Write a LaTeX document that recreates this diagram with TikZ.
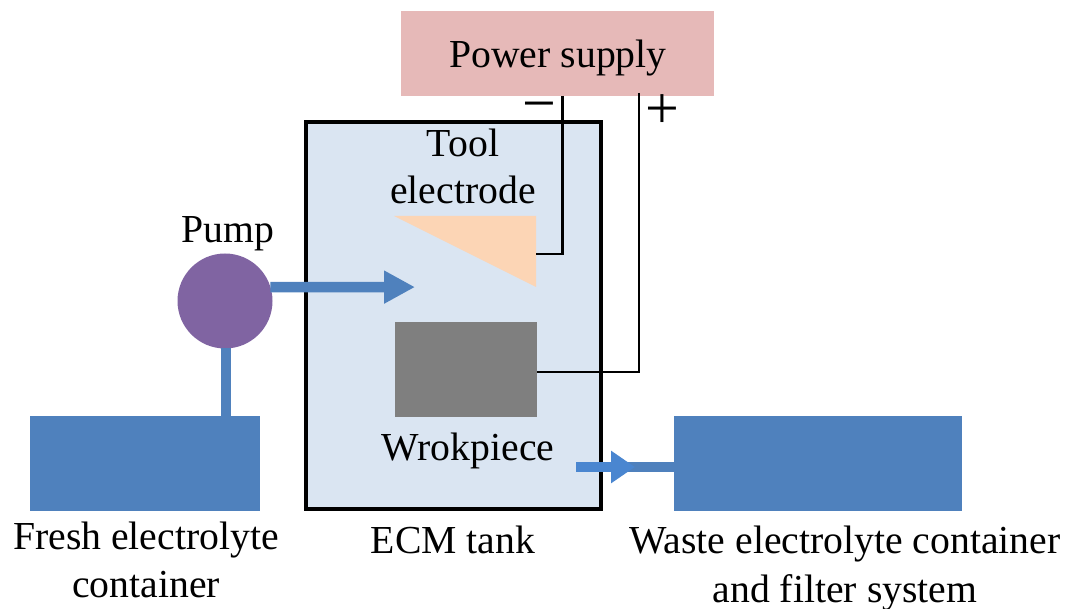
\documentclass[tikz,border=0pt]{standalone}
\usepackage{fontspec}
\setmainfont{Liberation Serif}
\usetikzlibrary{arrows.meta}
\definecolor{flowblue}{HTML}{4F81BD}
\definecolor{jetblue}{HTML}{4A86D0}
\definecolor{tankfill}{HTML}{DAE5F2}
\definecolor{powerfill}{HTML}{E6B9B8}
\definecolor{toolfill}{HTML}{FCD5B5}
\definecolor{workfill}{HTML}{7F7F7F}
\definecolor{pumpfill}{HTML}{8064A2}
\tikzset{
  boxshape/.style={rectangle,inner sep=0pt,outer sep=0pt,minimum width=#1},
  label/.style={inner sep=0pt,outer sep=0pt,anchor=base,align=center,font=\fontsize{39.7}{47.5}\selectfont},
  signmark/.style={inner sep=0pt,outer sep=0pt,anchor=base,font=\fontsize{60}{60}\selectfont},
  pipe/.style={draw=flowblue,line width=10.5pt},
  wire/.style={draw=black,line width=2.4pt},
}
\begin{document}
\begin{tikzpicture}[x=1pt,y=-1pt]
\useasboundingbox (0,0) rectangle (1067,609);
% tank
\node[boxshape=295pt,minimum height=387pt,fill=tankfill,draw=black,line width=3.2pt] (tank) at (453.5,315.5) {};
% boxes
\node[boxshape=313pt,minimum height=85pt,fill=powerfill] (power) at (557.5,53.5) {};
\node[boxshape=142pt,minimum height=95pt,fill=workfill] (work) at (466,369.5) {};
\node[boxshape=230pt,minimum height=95pt,fill=flowblue] (fresh) at (145,463.5) {};
\node[boxshape=288pt,minimum height=95pt,fill=flowblue] (waste) at (818,463.5) {};
\node[circle,inner sep=0pt,outer sep=0pt,minimum size=95pt,fill=pumpfill] (pump) at (225,301) {};
% tool electrode
\coordinate (toolA) at (394,216);
\coordinate (toolB) at (536,216);
\coordinate (toolC) at (536,287);
\coordinate (toolport) at (536,254);
\fill[toolfill] (toolA) -- (toolB) -- (toolC) -- cycle;
% pipes
\coordinate (jet) at (415,287.1);
\draw[pipe,-{Triangle[length=31pt,width=31pt]}] (pump.17) -- (jet);
\draw[pipe,line width=10pt] (226,348) -- (226,416);
\coordinate (outstart) at (576,467);
\coordinate (outtip) at (635,467);
\coordinate (stubstart) at (622,467);
\draw[pipe] (stubstart) -- (waste.west |- stubstart);
\draw[draw=jetblue,line width=10.5pt,-{Triangle[length=24pt,width=31pt]}] (outstart) -- (outtip);
% wires
\coordinate (minusTop) at (562.5,96);
\coordinate (plusTop) at (639,93);
\coordinate (workport) at (537,372);
\draw[wire] (minusTop) |- (toolport);
\draw[wire] (plusTop) |- (workport);
% labels
\node[label] (powerlabel) at (558,68) {Power supply};
\node[label] (toolabel) at (463,157) {Tool};
\node[label] (electrodelabel) at (463,204) {electrode};
\node[label] (pumplabel) at (228,243) {Pump};
\node[label] (worklabel) at (468,460) {Wrokpiece};
\node[label] (tanklabel) at (453,553) {ECM tank};
\node[label] (freshlabel) at (146,549) {Fresh electrolyte};
\node[label] (freshlabelb) at (146,597) {container};
\node[label] (wastelabel) at (845,553) {Waste electrolyte container};
\node[label] (wastelabelb) at (845,602) {and filter system};
\node[signmark] (minussign) at (539.5,123.5) {−};
\node[signmark] (plussign) at (662,128.5) {+};
\end{tikzpicture}
\end{document}
